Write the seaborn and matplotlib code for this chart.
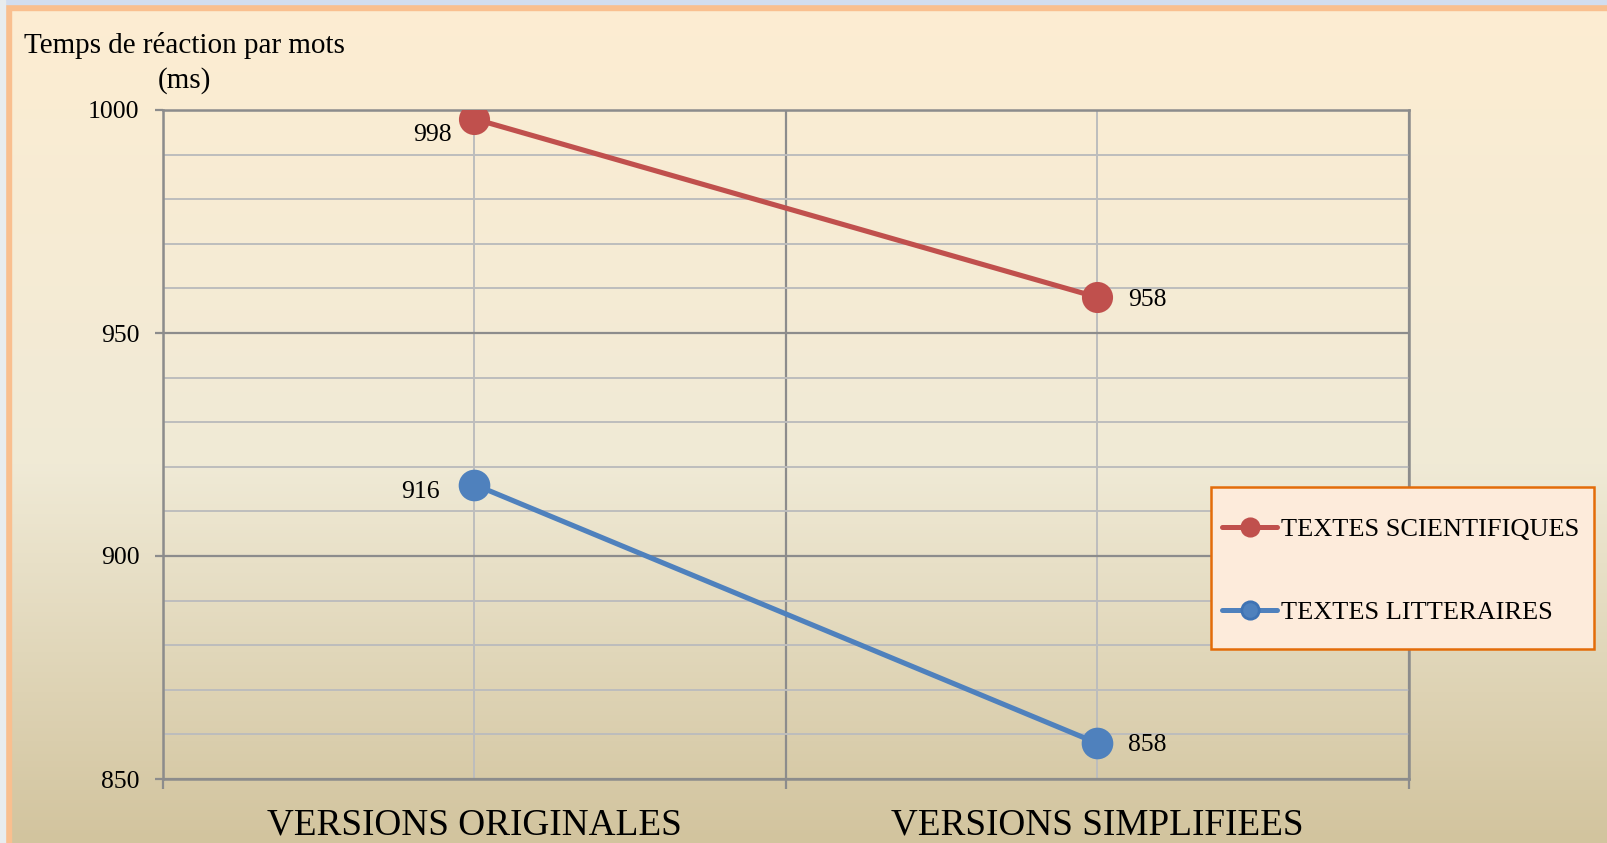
import numpy as np
import pandas as pd
import matplotlib
matplotlib.use('Agg')
import matplotlib.pyplot as plt
from matplotlib.colors import LinearSegmentedColormap
from matplotlib.lines import Line2D
from matplotlib.patches import Rectangle
import seaborn as sns

# Données du graphique
categories = ['VERSIONS ORIGINALES', 'VERSIONS SIMPLIFIEES']
series = ['TEXTES SCIENTIFIQUES', 'TEXTES LITTERAIRES']
scientifiques = [998, 958]
litteraires = [916, 858]
y_ticks = [850, 900, 950, 1000]

df = pd.DataFrame({
    'version': categories * 2,
    'serie': [series[0]] * 2 + [series[1]] * 2,
    'temps': scientifiques + litteraires,
})

couleurs = {series[0]: '#C0504D', series[1]: '#4F81BD'}
bords = {series[0]: '#C0504D', series[1]: '#3F73B4'}

sns.set_style('white')
plt.rcParams['font.family'] = ['Liberation Serif', 'DejaVu Serif']
plt.rcParams['text.color'] = 'black'
plt.rcParams['xtick.labelcolor'] = 'black'
plt.rcParams['ytick.labelcolor'] = 'black'

W, H = 1608, 843
fig = plt.figure(figsize=(W / 100, H / 100), dpi=100)

# Fond en dégradé
bg = fig.add_axes([0, 0, 1, 1], zorder=-10)
cmap = LinearSegmentedColormap.from_list(
    'fond', [(0, '#FDEDD2'), (0.55, '#F0EAD6'), (1, '#D2C49E')])
grad = np.linspace(0, 1, 256).reshape(-1, 1)
bg.imshow(grad, aspect='auto', cmap=cmap, extent=[0, 1, 0, 1])
bg.set_xlim(0, 1)
bg.set_ylim(0, 1)
bg.axis('off')
# bordures haut / gauche
fig.patches.append(Rectangle((0, 1 - 10 / H), 1, 10 / H, transform=fig.transFigure,
                             color='#F9BF8F', zorder=-5))
fig.patches.append(Rectangle((0, 1 - 4 / H), 1, 4 / H, transform=fig.transFigure,
                             color='#D2DDEF', zorder=-4))
fig.patches.append(Rectangle((0, 0), 11 / W, 1, transform=fig.transFigure,
                             color='#F9BF8F', zorder=-5))
fig.patches.append(Rectangle((0, 0), 5 / W, 1, transform=fig.transFigure,
                             color='#E8ECEE', zorder=-4))

ax = fig.add_axes([163 / W, 1 - 779 / H, (1409 - 163) / W, (779 - 110) / H])
ax.patch.set_alpha(0)

sns.pointplot(data=df, x='version', y='temps', hue='serie', palette=couleurs,
              markers='o', linestyles='-', ax=ax, legend=False,
              markersize=20, linewidth=3.7)
for line, s in zip(ax.lines, series):
    line.set_markersize(20)
    line.set_markeredgecolor(bords[s])
    line.set_markeredgewidth(2.4)
    line.set_zorder(5)

ax.set_xlim(-0.5, 1.5)
ax.set_ylim(850, 1000)
ax.set_xlabel('')
ax.set_ylabel('')

# Grilles
ax.set_yticks(y_ticks)
ax.set_yticks(np.arange(850, 1001, 10), minor=True)
ax.set_xticks([0, 1])
ax.set_xticklabels(categories)
ax.set_xticks([-0.5, 0.5, 1.5], minor=True)
ax.grid(False)
ax.grid(which='major', axis='y', color='#8C8C8C', lw=1.6)
ax.grid(which='minor', axis='y', color='#BDBDBD', lw=1.4)
ax.grid(which='major', axis='x', color='#BDBDBD', lw=1.4)
ax.grid(which='minor', axis='x', color='#8C8C8C', lw=1.6)
ax.set_axisbelow(True)
for sp in ax.spines.values():
    sp.set_color('#8C8C8C')
    sp.set_linewidth(1.8)

ax.tick_params(axis='y', which='major', length=6, width=1.6, color='#8C8C8C',
               labelsize=18.5, pad=11, left=True)
ax.tick_params(axis='y', which='minor', length=0)
ax.tick_params(axis='x', which='major', length=0, labelsize=26.8, pad=21)
ax.tick_params(axis='x', which='minor', length=7.5, width=1.6, color='#8C8C8C',
               bottom=True)

# Étiquettes de données
decalages = [(-23, -16), (31, -3), (-35, -7), (31, -2)]
valeurs = scientifiques + litteraires
positions = [0, 1, 0, 1]
for (dx, dy), xv, yv in zip(decalages, positions, valeurs):
    ax.annotate(str(yv), (xv, yv), xytext=(dx, dy), textcoords='offset pixels',
                ha='right' if dx < 0 else 'left', va='center', fontsize=18.5,
                zorder=6)

# Titre de l'axe
fig.text(184 / W, 1 - 63 / H, 'Temps de réaction par mots\n(ms)',
         ha='center', va='center', multialignment='center',
         fontsize=21, linespacing=1.4)

# Légende : cadre dessiné à part
fig.patches.append(Rectangle((1211 / W, 1 - 649 / H), (1594 - 1211) / W, (649 - 487) / H,
                             transform=fig.transFigure, facecolor='#FDEBDB',
                             edgecolor='#E36C09', lw=1.8, zorder=3))
handles = [Line2D([0], [0], color=couleurs[s], lw=3.6, marker='o', markersize=12.5,
                  markerfacecolor=couleurs[s], markeredgecolor=bords[s],
                  markeredgewidth=2) for s in series]
leg = fig.legend(handles, series, loc='center left',
                 bbox_to_anchor=(1222 / W, 1 - 571 / H),
                 fontsize=19, frameon=False, labelspacing=2.25,
                 handlelength=2.1, handletextpad=0.15, borderpad=0,
                 borderaxespad=0)
leg.set_zorder(4)

fig.savefig('out.png', dpi=100)
